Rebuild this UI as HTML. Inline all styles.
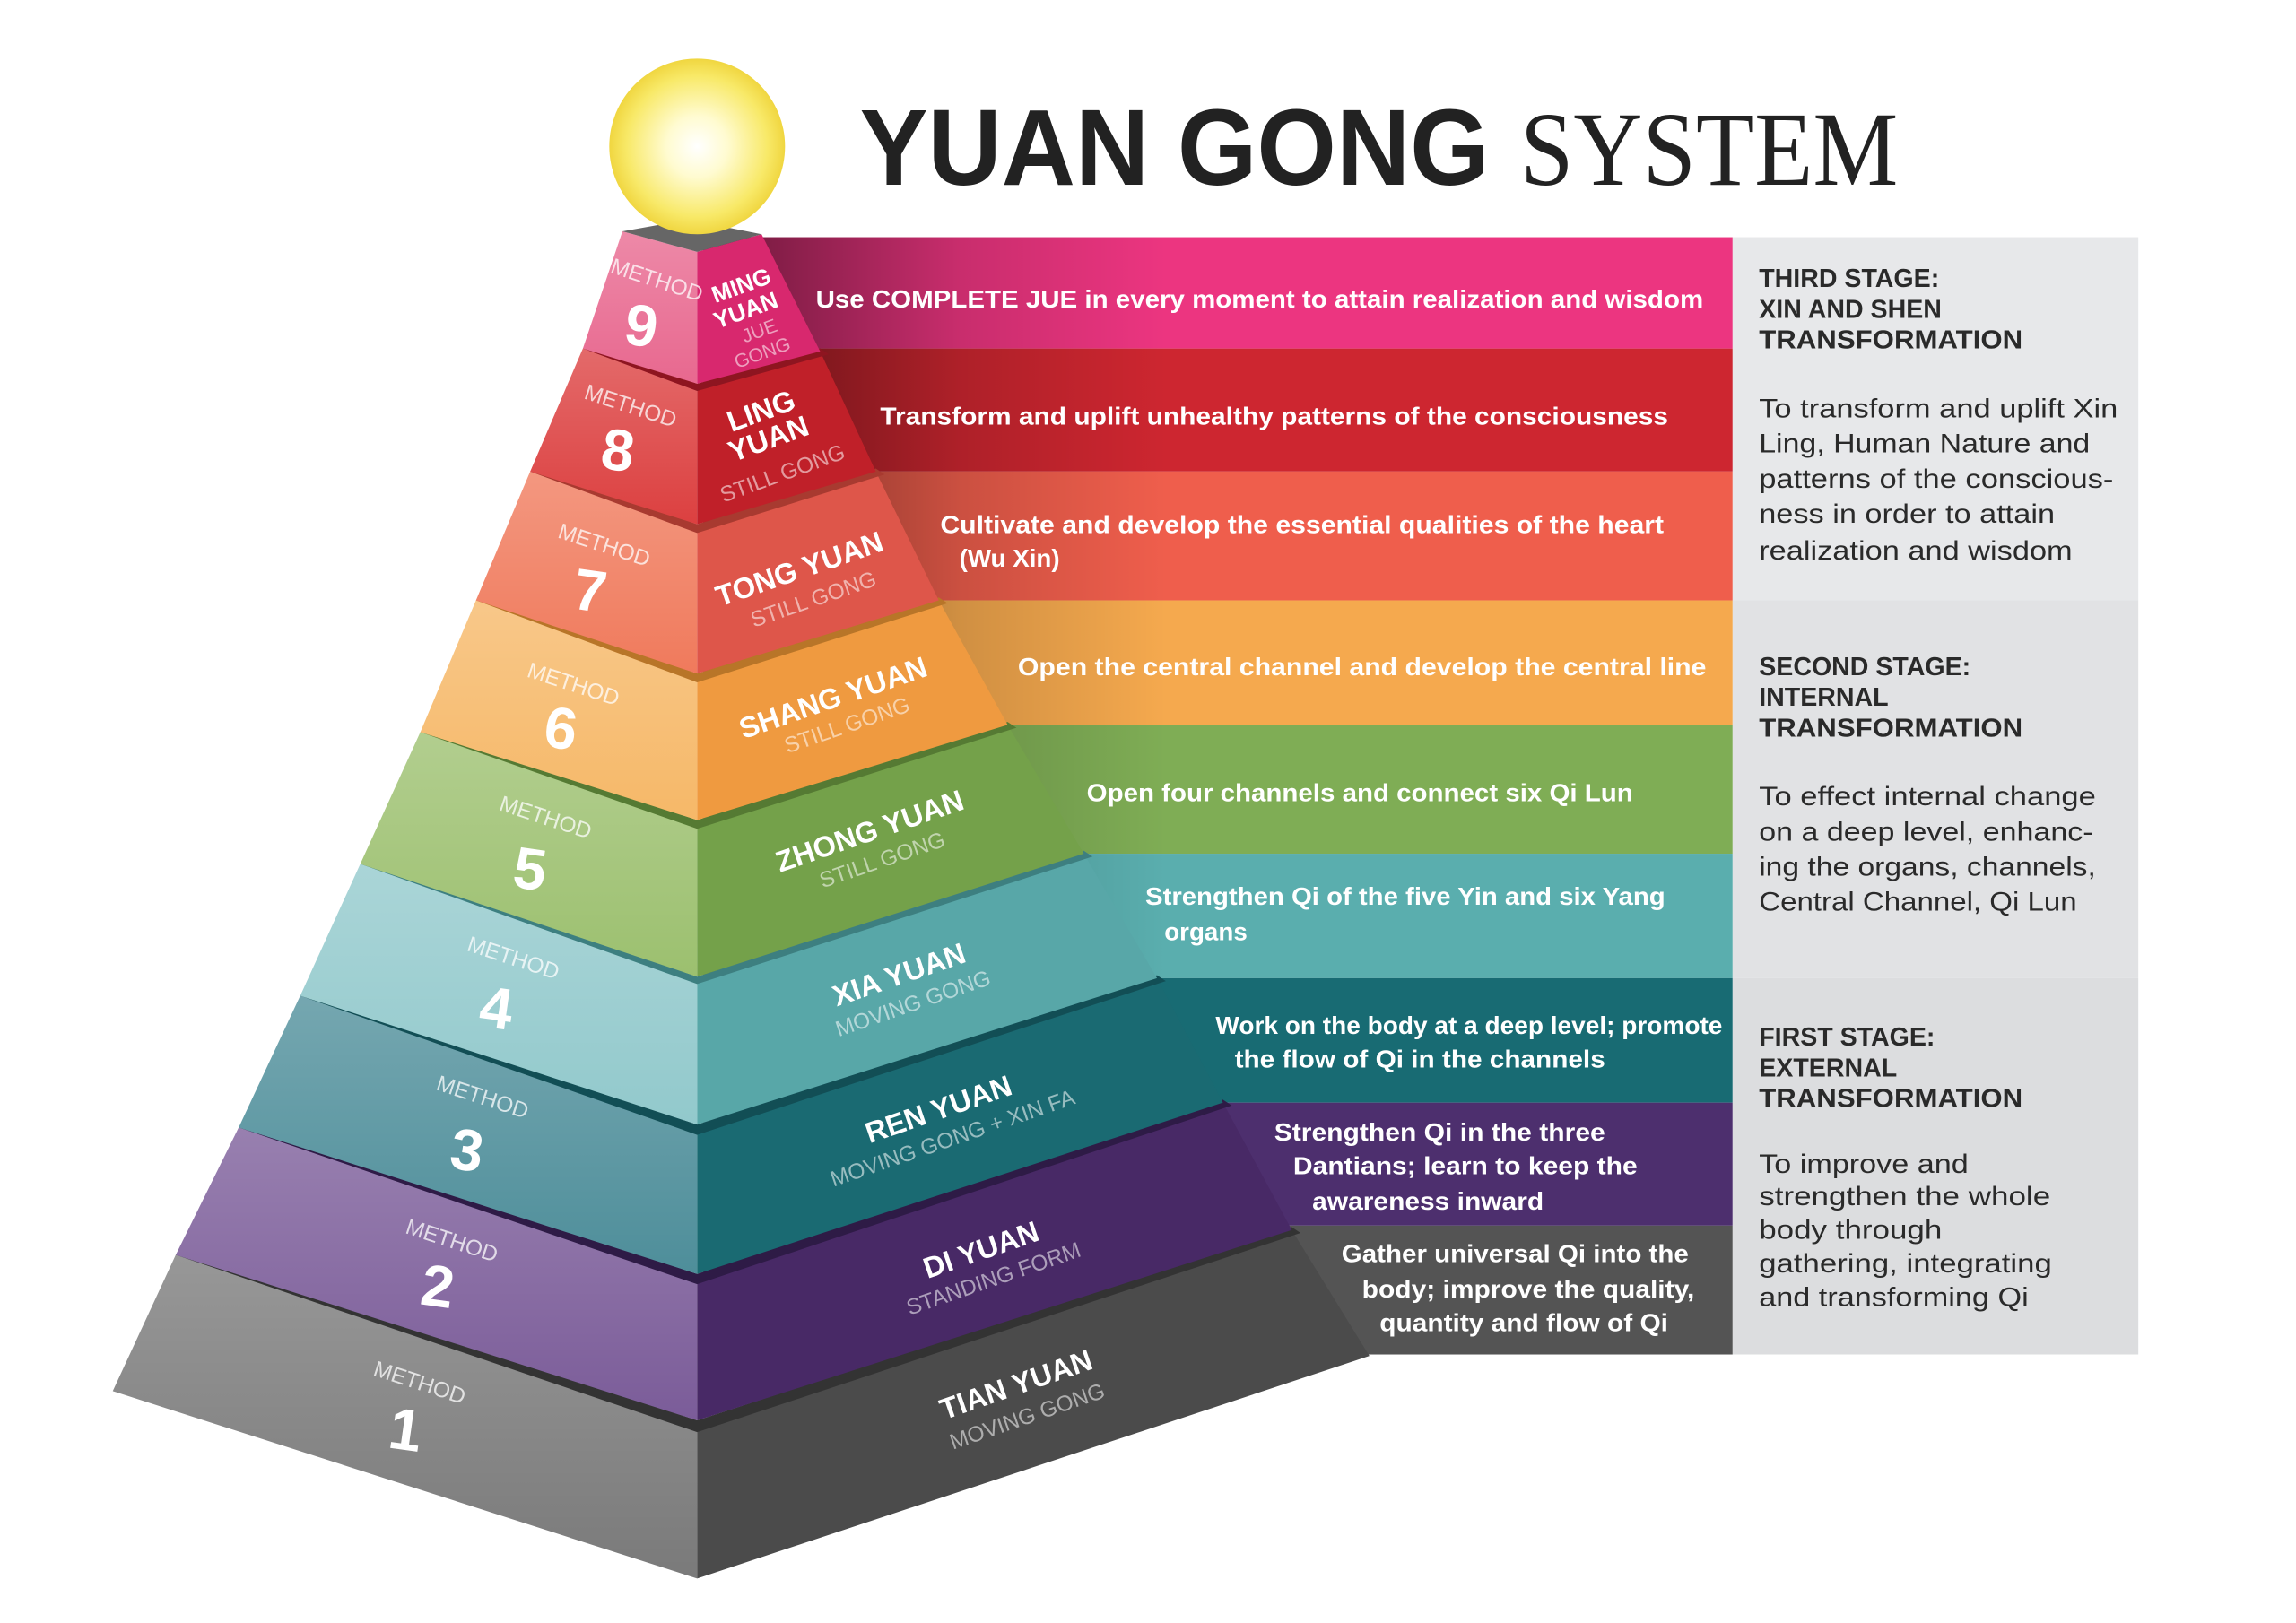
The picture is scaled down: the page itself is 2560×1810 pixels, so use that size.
<!DOCTYPE html>
<html><head><meta charset="utf-8"><style>
html,body{margin:0;padding:0;background:#fff;}
svg{display:block;}
</style></head><body>
<svg width="2560" height="1810" viewBox="0 0 2560 1810" xmlns="http://www.w3.org/2000/svg" font-family="Liberation Sans, sans-serif">
<defs>
<radialGradient id="sun" cx="50%" cy="50%" r="50%">
<stop offset="0" stop-color="#ffffff"/><stop offset="0.35" stop-color="#fffbd0"/><stop offset="0.8" stop-color="#f8e968"/><stop offset="1" stop-color="#f0d640"/>
</radialGradient>
<linearGradient id="shade" x1="0" x2="1" y1="0" y2="0">
<stop offset="0" stop-color="#000" stop-opacity="0.55"/><stop offset="0.25" stop-color="#000" stop-opacity="0.15"/><stop offset="0.45" stop-color="#000" stop-opacity="0"/>
</linearGradient>
<linearGradient id="lf" x1="0" x2="0" y1="0" y2="1">
<stop offset="0" stop-color="#fff" stop-opacity="0.22"/><stop offset="1" stop-color="#fff" stop-opacity="0"/>
</linearGradient>
</defs>
<g transform="scale(1.633)">
<!-- title -->
<text x="587" y="126" font-size="74" font-weight="bold" fill="#222" textLength="430" lengthAdjust="spacingAndGlyphs">YUAN GONG</text>
<text x="1038" y="126" font-size="72" fill="#222" style="font-family:'Liberation Serif',serif" textLength="258" lengthAdjust="spacingAndGlyphs">SYSTEM</text>

<!-- bands -->
<rect x="480" y="162" width="703" height="76" fill="#ec3580"/>
<rect x="480" y="238" width="703" height="84" fill="#cd2630"/>
<rect x="480" y="322" width="703" height="88" fill="#ef5e4c"/>
<rect x="480" y="410" width="703" height="85" fill="#f5a94e"/>
<rect x="480" y="495" width="703" height="88" fill="#7fad55"/>
<rect x="480" y="583" width="703" height="85" fill="#5aaeae"/>
<rect x="480" y="668" width="703" height="85" fill="#186b73"/>
<rect x="480" y="753" width="703" height="84" fill="#4d2f6e"/>
<rect x="480" y="837" width="703" height="88" fill="#545454"/>
<rect x="480" y="162" width="703" height="763" fill="url(#shade)"/>
<!-- panel -->
<rect x="1183" y="162" width="277" height="248" fill="#e7e8ea"/>
<rect x="1183" y="410" width="277" height="258" fill="#e1e2e4"/>
<rect x="1183" y="668" width="277" height="257" fill="#dcdddf"/>

<!-- band texts -->
<g fill="#fff" font-size="17" font-weight="bold">
<text x="557" y="210" textLength="606" lengthAdjust="spacingAndGlyphs">Use COMPLETE JUE in every moment to attain realization and wisdom</text>
<text x="601" y="290" textLength="538" lengthAdjust="spacingAndGlyphs">Transform and uplift unhealthy patterns of the consciousness</text>
<text x="642" y="364" textLength="494" lengthAdjust="spacingAndGlyphs">Cultivate and develop the essential qualities of the heart</text>
<text x="655" y="387">(Wu Xin)</text>
<text x="695" y="461" textLength="470" lengthAdjust="spacingAndGlyphs">Open the central channel and develop the central line</text>
<text x="742" y="547" textLength="373" lengthAdjust="spacingAndGlyphs">Open four channels and connect six Qi Lun</text>
<text x="782" y="618" textLength="355" lengthAdjust="spacingAndGlyphs">Strengthen Qi of the five Yin and six Yang</text>
<text x="795" y="642">organs</text>
<text x="830" y="706" textLength="346" lengthAdjust="spacingAndGlyphs">Work on the body at a deep level; promote</text>
<text x="843" y="729" textLength="253" lengthAdjust="spacingAndGlyphs">the flow of Qi in the channels</text>
<text x="870" y="779" textLength="226" lengthAdjust="spacingAndGlyphs">Strengthen Qi in the three</text>
<text x="883" y="802" textLength="235" lengthAdjust="spacingAndGlyphs">Dantians; learn to keep the</text>
<text x="896" y="826" textLength="158" lengthAdjust="spacingAndGlyphs">awareness inward</text>
<text x="916" y="862" textLength="237" lengthAdjust="spacingAndGlyphs">Gather universal Qi into the</text>
<text x="930" y="886" textLength="227" lengthAdjust="spacingAndGlyphs">body; improve the quality,</text>
<text x="942" y="909" textLength="197" lengthAdjust="spacingAndGlyphs">quantity and flow of Qi</text>
</g>
<g fill="#2a2a2a" font-size="18">
<g font-weight="bold" font-size="17.5">
<text x="1201" y="196">THIRD STAGE:</text><text x="1201" y="217">XIN AND SHEN</text><text x="1201" y="238" textLength="180" lengthAdjust="spacingAndGlyphs">TRANSFORMATION</text>
<text x="1201" y="461">SECOND STAGE:</text><text x="1201" y="482">INTERNAL</text><text x="1201" y="503" textLength="180" lengthAdjust="spacingAndGlyphs">TRANSFORMATION</text>
<text x="1201" y="714">FIRST STAGE:</text><text x="1201" y="735">EXTERNAL</text><text x="1201" y="756" textLength="180" lengthAdjust="spacingAndGlyphs">TRANSFORMATION</text>
</g>
<text x="1201" y="285" textLength="245" lengthAdjust="spacingAndGlyphs">To transform and uplift Xin</text>
<text x="1201" y="309" textLength="226" lengthAdjust="spacingAndGlyphs">Ling, Human Nature and</text>
<text x="1201" y="333" textLength="242" lengthAdjust="spacingAndGlyphs">patterns of the conscious-</text>
<text x="1201" y="357" textLength="202" lengthAdjust="spacingAndGlyphs">ness in order to attain</text>
<text x="1201" y="382" textLength="214" lengthAdjust="spacingAndGlyphs">realization and wisdom</text>
<text x="1201" y="550" textLength="230" lengthAdjust="spacingAndGlyphs">To effect internal change</text>
<text x="1201" y="574" textLength="228" lengthAdjust="spacingAndGlyphs">on a deep level, enhanc-</text>
<text x="1201" y="598" textLength="230" lengthAdjust="spacingAndGlyphs">ing the organs, channels,</text>
<text x="1201" y="622" textLength="217" lengthAdjust="spacingAndGlyphs">Central Channel, Qi Lun</text>
<text x="1201" y="801" textLength="143" lengthAdjust="spacingAndGlyphs">To improve and</text>
<text x="1201" y="823" textLength="199" lengthAdjust="spacingAndGlyphs">strengthen the whole</text>
<text x="1201" y="846" textLength="125" lengthAdjust="spacingAndGlyphs">body through</text>
<text x="1201" y="869" textLength="200" lengthAdjust="spacingAndGlyphs">gathering, integrating</text>
<text x="1201" y="892" textLength="184" lengthAdjust="spacingAndGlyphs">and transforming Qi</text>
</g>

<!-- pyramid -->
<!-- tier 1 -->
<polygon points="120,857 476,975 476,1078 77,950" fill="#7a7a7a"/>
<polygon points="476,975 882,840 935,926 476,1078" fill="#4b4b4b"/>
<polygon points="120,857 476,975 476,1078 77,950" fill="url(#lf)"/>
<polygon points="120,857 126,853 476,970 882,838 888,842 476,978" fill="#333"/>
<!-- tier 2 -->
<polygon points="163,770 476,874 476,970 120,857" fill="#7b5c99"/>
<polygon points="476,874 835,753 882,840 476,970" fill="#482966"/>
<polygon points="163,770 476,874 476,970 120,857" fill="url(#lf)"/>
<polygon points="163,770 168,767 476,870 835,751 841,755 476,877" fill="#2e1b46"/>
<!-- tier 3 -->
<polygon points="205,680 476,772 476,870 163,770" fill="#4e8e9a"/>
<polygon points="476,772 790,668 835,753 476,870" fill="#1a6a72"/>
<polygon points="205,680 476,772 476,870 163,770" fill="url(#lf)"/>
<polygon points="205,680 210,677 476,768 790,666 796,670 476,775" fill="#124e55"/>
<!-- tier 4 -->
<polygon points="246,590 476,670 476,768 205,680" fill="#92c9cc"/>
<polygon points="476,670 740,583 790,668 476,768" fill="#58a7a8"/>
<polygon points="246,590 476,670 476,768 205,680" fill="url(#lf)"/>
<polygon points="246,590 251,587 476,667 740,581 746,585 476,672" fill="#3d7f80"/>
<!-- tier 5 -->
<polygon points="287,500 476,563 476,667 246,590" fill="#9cc06f"/>
<polygon points="476,563 688,495 740,583 476,667" fill="#74a14a"/>
<polygon points="287,500 476,563 476,667 246,590" fill="url(#lf)"/>
<polygon points="287,500 292,497 476,560 688,493 694,497 476,566" fill="#557a33"/>
<!-- tier 6 -->
<polygon points="325,410 476,463 476,560 287,500" fill="#f6b868"/>
<polygon points="476,463 641,410 688,495 476,560" fill="#ef9a40"/>
<polygon points="325,410 476,463 476,560 287,500" fill="url(#lf)"/>
<polygon points="325,410 330,407 476,460 641,408 647,412 476,466" fill="#b87528"/>
<!-- tier 7 -->
<polygon points="362,322 476,361 476,460 325,410" fill="#f07a5c"/>
<polygon points="476,361 598,322 641,410 476,460" fill="#de564a"/>
<polygon points="362,322 476,361 476,460 325,410" fill="url(#lf)"/>
<polygon points="362,322 367,319 476,358 598,320 604,324 476,364" fill="#a83a30"/>
<!-- tier 8 -->
<polygon points="398,238 476,264 476,358 362,322" fill="#dc4040"/>
<polygon points="476,264 560,240 598,322 476,358" fill="#c02029"/>
<polygon points="398,238 476,264 476,358 362,322" fill="url(#lf)"/>
<polygon points="398,238 403,235 476,262 560,238 566,242 476,267" fill="#8e1520"/>
<!-- tier 9 -->
<polygon points="425,158 476,172 476,262 398,238" fill="#e8688f"/>
<polygon points="476,172 520,160 560,240 476,262" fill="#d8286e"/>
<polygon points="425,158 476,172 476,262 398,238" fill="url(#lf)"/>
<polygon points="425,158 470,150 520,160 476,172" fill="#666"/>
<!-- sun -->
<circle cx="476" cy="100" r="60" fill="url(#sun)"/>

<!-- left face labels -->
<g fill="#fff" text-anchor="middle">
<g font-size="15" opacity="0.75">
<text transform="translate(447,196) rotate(18)">METHOD</text>
<text transform="translate(429,282) rotate(18)">METHOD</text>
<text transform="translate(411,377) rotate(18)">METHOD</text>
<text transform="translate(390,472) rotate(18)">METHOD</text>
<text transform="translate(371,563) rotate(18)">METHOD</text>
<text transform="translate(349,659) rotate(18)">METHOD</text>
<text transform="translate(328,754) rotate(18)">METHOD</text>
<text transform="translate(307,852) rotate(18)">METHOD</text>
<text transform="translate(285,949) rotate(18)">METHOD</text>
</g>
<g font-size="40" font-weight="bold">
<text transform="translate(436,236) rotate(8)">9</text>
<text transform="translate(420,321) rotate(8)">8</text>
<text transform="translate(401,417) rotate(8)">7</text>
<text transform="translate(381,511) rotate(8)">6</text>
<text transform="translate(360,607) rotate(8)">5</text>
<text transform="translate(337,702) rotate(8)">4</text>
<text transform="translate(317,799) rotate(8)">3</text>
<text transform="translate(297,892) rotate(8)">2</text>
<text transform="translate(275,990) rotate(8)">1</text>
</g>
</g>
<!-- right face labels -->
<g text-anchor="middle">
<g fill="#fff" font-weight="bold" font-size="20">
<text transform="translate(508,200) rotate(-20)" font-size="16">MING</text>
<text transform="translate(511,217) rotate(-20)" font-size="16">YUAN</text>
<text transform="translate(522,287) rotate(-20)">LING</text>
<text transform="translate(527,306) rotate(-20)">YUAN</text>
<text transform="translate(548,395) rotate(-19)">TONG YUAN</text>
<text transform="translate(571,483) rotate(-19)">SHANG YUAN</text>
<text transform="translate(596,574) rotate(-19)">ZHONG YUAN</text>
<text transform="translate(616,672) rotate(-19)">XIA YUAN</text>
<text transform="translate(643,764) rotate(-19)">REN YUAN</text>
<text transform="translate(672,860) rotate(-19)">DI YUAN</text>
<text transform="translate(696,952) rotate(-19)">TIAN YUAN</text>
</g>
<g fill="#fff" fill-opacity="0.55" font-size="15">
<text transform="translate(520,230) rotate(-20)" font-size="13">JUE</text>
<text transform="translate(522,245) rotate(-20)" font-size="13">GONG</text>
<text transform="translate(536,328) rotate(-20)">STILL GONG</text>
<text transform="translate(557,414) rotate(-19)">STILL GONG</text>
<text transform="translate(580,500) rotate(-19)">STILL GONG</text>
<text transform="translate(604,592) rotate(-19)">STILL GONG</text>
<text transform="translate(625,690) rotate(-19)">MOVING GONG</text>
<text transform="translate(652,782) rotate(-19)">MOVING GONG + XIN FA</text>
<text transform="translate(680,878) rotate(-19)">STANDING FORM</text>
<text transform="translate(703,972) rotate(-19)">MOVING GONG</text>
</g>
</g>
</g>
</svg>
</body></html>
